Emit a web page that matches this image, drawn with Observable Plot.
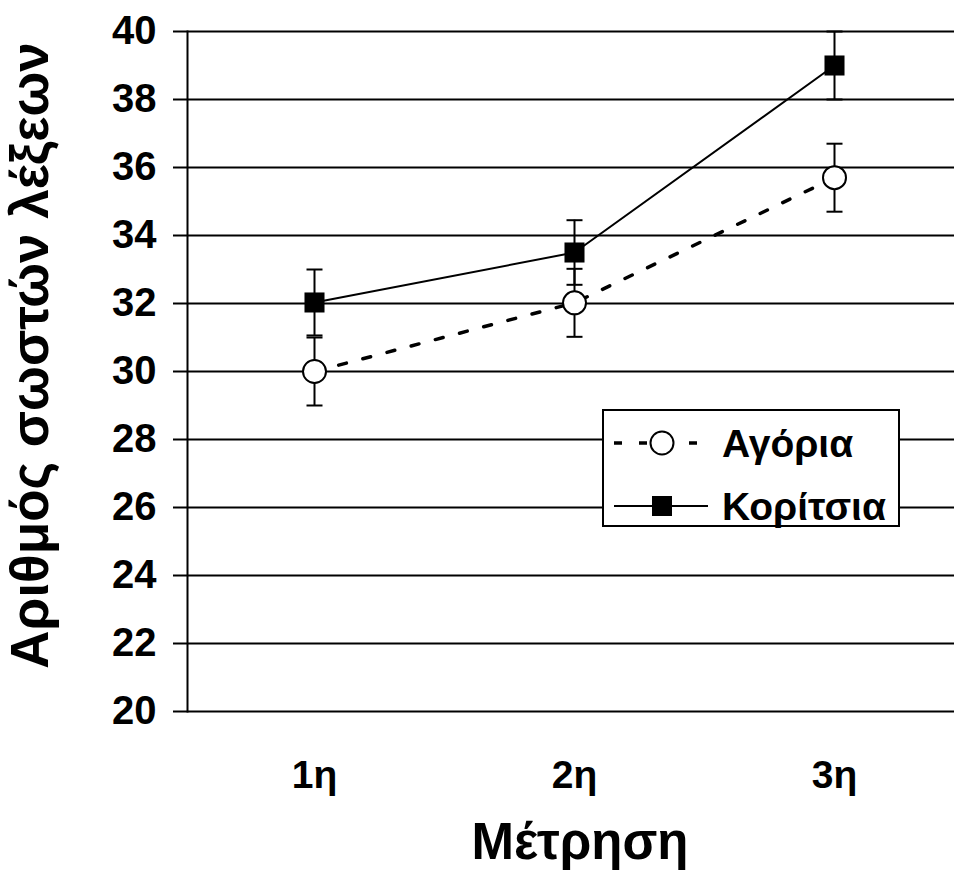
<!DOCTYPE html>
<html>
<head>
<meta charset="utf-8">
<script src="https://cdn.jsdelivr.net/npm/d3@7"></script>
<script src="https://cdn.jsdelivr.net/npm/@observablehq/plot@0.6"></script>
<style>
  html, body { margin: 0; padding: 0; background: white; }
  #wrap { position: relative; width: 954px; height: 880px; font-family: "Liberation Sans", Arial, sans-serif; }
  #legend { position: absolute; left: 602px; top: 409px; width: 298px; height: 118px; box-sizing: border-box; border: 2px solid black; background: white; }
</style>
</head>
<body>
<div id="wrap"></div>
<script>
// ---- data ----
const measurements = ["1η", "2η", "3η"];
const boys = [30, 32.02, 35.7];
const boysErr = [1, 1, 1];
const girls = [32.03, 33.5, 39];
const girlsErr = [0.97, 0.95, 1];
const yTicks = [20, 22, 24, 26, 28, 30, 32, 34, 36, 38, 40];
const seriesNames = ["Αγόρια", "Κορίτσια"];
const xTitle = "Μέτρηση";
const yTitle = "Αριθμός σωστών λέξεων";

const boysData = measurements.map((m, i) => ({m, v: boys[i], lo: boys[i] - boysErr[i], hi: boys[i] + boysErr[i]}));
const girlsData = measurements.map((m, i) => ({m, v: girls[i], lo: girls[i] - girlsErr[i], hi: girls[i] + girlsErr[i]}));
const allData = [...girlsData, ...boysData];
const caps = allData.flatMap(d => [{m: d.m, y: d.lo}, {m: d.m, y: d.hi}]);

const font = "Liberation Sans, Arial, sans-serif";
const capSymbol = {
  draw(context, size) {
    const r = Math.sqrt(size / Math.PI);
    context.moveTo(-r, 0);
    context.lineTo(r, 0);
  }
};

const chart = Plot.plot({
  width: 954,
  height: 880,
  marginLeft: 187,
  marginRight: 0,
  marginTop: 31,
  marginBottom: 169,
  style: {fontFamily: font, color: "black", background: "white", overflow: "visible"},
  x: {type: "point", domain: measurements, range: [184, 964], padding: 0.5},
  y: {domain: [20, 40]},
  marks: [
    Plot.ruleY(yTicks, {stroke: "black", strokeWidth: 2}),
    Plot.frame({anchor: "left", stroke: "black", strokeWidth: 2}),
    Plot.axisY({ticks: yTicks, tickSize: 14, tickPadding: 17, fontSize: 40, fontWeight: "bold", label: null, strokeWidth: 2}),
    Plot.axisX({tickSize: 0, tickPadding: 49, fontSize: 39, fontWeight: "bold", label: null}),
    Plot.line(boysData, {x: "m", y: "v", stroke: "black", strokeWidth: 3.5, strokeDasharray: "8,17"}),
    Plot.line(girlsData, {x: "m", y: "v", stroke: "black", strokeWidth: 2}),
    Plot.ruleX(allData, {x: "m", y1: "lo", y2: "hi", stroke: "black", strokeWidth: 2}),
    Plot.dot(caps, {x: "m", y: "y", symbol: capSymbol, r: 8, fill: "none", stroke: "black", strokeWidth: 2}),
    Plot.dot(boysData, {x: "m", y: "v", symbol: "circle", r: 11.5, fill: "white", stroke: "black", strokeWidth: 2}),
    Plot.dot(girlsData, {x: "m", y: "v", symbol: "square", r: 11.3, fill: "black", stroke: "none"}),
    Plot.text([yTitle], {text: d => d, frameAnchor: "left", textAnchor: "middle", rotate: -90, dx: -140, dy: -16, fontSize: 53, fontWeight: "bold", lineAnchor: "bottom"}),
    Plot.text([xTitle], {text: d => d, frameAnchor: "bottom", textAnchor: "middle", dx: 9, dy: 147, fontSize: 51, fontWeight: "bold", lineAnchor: "bottom"})
  ]
});

const wrap = document.getElementById("wrap");
wrap.appendChild(chart);

// ---- legend ----
const legend = document.createElement("div");
legend.id = "legend";
wrap.appendChild(legend);
const svg = d3.select(legend).append("svg").attr("width", 294).attr("height", 114)
  .style("display", "block").style("overflow", "visible");
const rows = [
  {name: seriesNames[0], y: 32, dash: "8,17", sw: 3.5, sym: "circle"},
  {name: seriesNames[1], y: 95, dash: null, sw: 2, sym: "square"}
];
rows.forEach(r => {
  svg.append("line").attr("x1", 10).attr("x2", 104).attr("y1", r.y).attr("y2", r.y)
    .attr("stroke", "black").attr("stroke-width", r.sw).attr("stroke-dasharray", r.dash);
  if (r.sym === "circle") {
    svg.append("circle").attr("cx", 58).attr("cy", r.y).attr("r", 11.5)
      .attr("fill", "white").attr("stroke", "black").attr("stroke-width", 2);
  } else {
    svg.append("rect").attr("x", 48).attr("y", r.y - 10).attr("width", 20).attr("height", 20).attr("fill", "black");
  }
  svg.append("text").attr("x", 118).attr("y", r.y).attr("dy", "0.36em")
    .attr("font-family", font).attr("font-weight", "bold").attr("font-size", 39)
    .text(r.name);
});
</script>
</body>
</html>
